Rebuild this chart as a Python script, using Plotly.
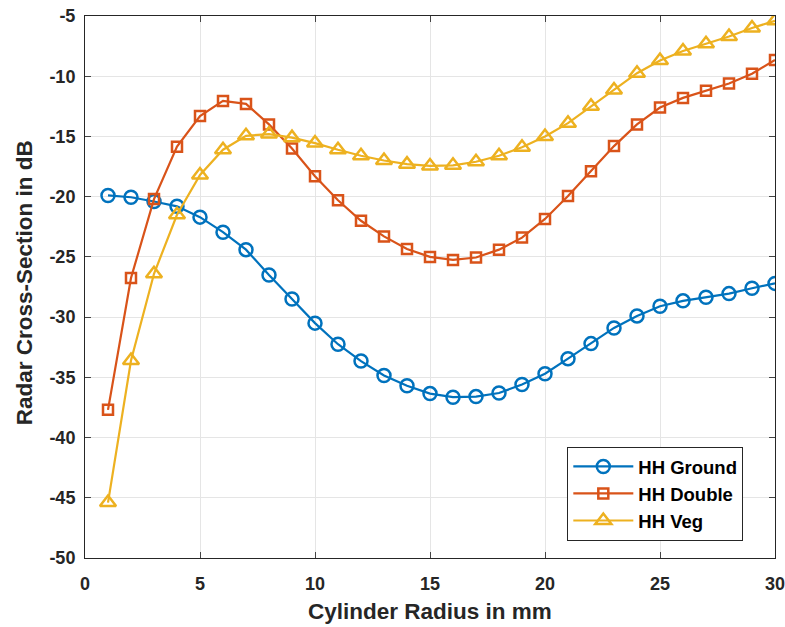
import plotly.graph_objects as go

radius = list(range(1, 31))
hh_ground = [-19.9, -20.05, -20.4, -20.8, -21.7, -22.95, -24.4, -26.5, -28.5, -30.5,
             -32.25, -33.65, -34.85, -35.7, -36.35, -36.65, -36.6, -36.3, -35.6, -34.7,
             -33.45, -32.2, -30.9, -29.9, -29.1, -28.65, -28.35, -28.05, -27.6, -27.2]
hh_double = [-37.7, -26.75, -20.2, -15.85, -13.3, -12.05, -12.3, -14.0, -16.0, -18.3,
             -20.3, -22.0, -23.3, -24.35, -25.0, -25.25, -25.05, -24.4, -23.4, -21.85,
             -19.95, -17.9, -15.8, -14.0, -12.6, -11.8, -11.2, -10.6, -9.8, -8.65]
hh_veg = [-45.4, -33.6, -26.4, -21.5, -18.2, -16.1, -14.95, -14.8, -15.1, -15.55,
          -16.1, -16.6, -17.0, -17.3, -17.45, -17.4, -17.1, -16.6, -15.9, -15.0,
          -13.9, -12.5, -11.15, -9.75, -8.7, -7.9, -7.3, -6.7, -6.0, -5.4]

x_ticks = [0, 5, 10, 15, 20, 25, 30]
y_ticks = [-50, -45, -40, -35, -30, -25, -20, -15, -10, -5]
y_tick_labels = ["-50", "-45", "-40", "-35", "-30", "-25", "-20", "-15", "-10", "-5"]

font_family = "Liberation Sans, Arial, sans-serif"
dark = "#262626"

fig = go.Figure()
fig.add_trace(go.Scatter(x=radius, y=hh_ground, name="HH Ground", mode="lines+markers",
                         line=dict(color="#0072BD", width=2.2),
                         marker=dict(symbol="circle-open", size=13, line=dict(width=2.5, color="#0072BD"))))
fig.add_trace(go.Scatter(x=radius, y=hh_double, name="HH Double", mode="lines+markers",
                         line=dict(color="#D95319", width=2.2),
                         marker=dict(symbol="square-open", size=10, line=dict(width=2.5, color="#D95319"))))
fig.add_trace(go.Scatter(x=radius, y=hh_veg, name="HH Veg", mode="lines+markers",
                         line=dict(color="#EDB120", width=2.2),
                         marker=dict(symbol="triangle-up-open", size=14, line=dict(width=2.5, color="#EDB120"))))

fig.update_layout(
    width=785, height=627,
    margin=dict(l=85, r=10, t=16, b=69, autoexpand=False),
    paper_bgcolor="white", plot_bgcolor="white",
    font=dict(family=font_family, size=16, color=dark),
    showlegend=True,
    legend=dict(x=0.699, y=0.205, xanchor="left", yanchor="top",
                bordercolor=dark, borderwidth=1, bgcolor="white",
                font=dict(family=font_family, size=18.5, color="black", weight="bold"),
                tracegroupgap=0, itemwidth=60),
    annotations=[
        dict(text="<b>Cylinder Radius in mm</b>", x=0.5, y=0, xref="paper", yref="paper",
             xanchor="center", yanchor="middle", yshift=-53, showarrow=False,
             font=dict(family=font_family, size=22.5, color=dark)),
        dict(text="<b>Radar Cross-Section in dB</b>", x=0, y=0.507, xref="paper", yref="paper",
             xanchor="center", yanchor="middle", xshift=-61, textangle=-90, showarrow=False,
             font=dict(family=font_family, size=22.5, color=dark)),
    ],
)
fig.update_xaxes(range=[0, 30], tickvals=x_ticks, ticks="inside", ticklen=6, automargin=False,
                 showline=True, linecolor=dark, linewidth=1, mirror="ticks",
                 showgrid=True, gridcolor="#E5E5E5", gridwidth=1, zeroline=False,
                 ticklabelstandoff=9, ticklabeloverflow="allow",
                 tickfont=dict(family=font_family, size=18, color=dark, weight="bold"))
fig.update_yaxes(range=[-50, -5], tickvals=y_ticks, ticktext=y_tick_labels, ticks="inside", ticklen=6,
                 automargin=False,
                 showline=True, linecolor=dark, linewidth=1, mirror="ticks",
                 showgrid=True, gridcolor="#E5E5E5", gridwidth=1, zeroline=False,
                 ticklabelstandoff=5, ticklabeloverflow="allow",
                 tickfont=dict(family=font_family, size=18, color=dark, weight="bold"))

fig.write_html("out.html")
